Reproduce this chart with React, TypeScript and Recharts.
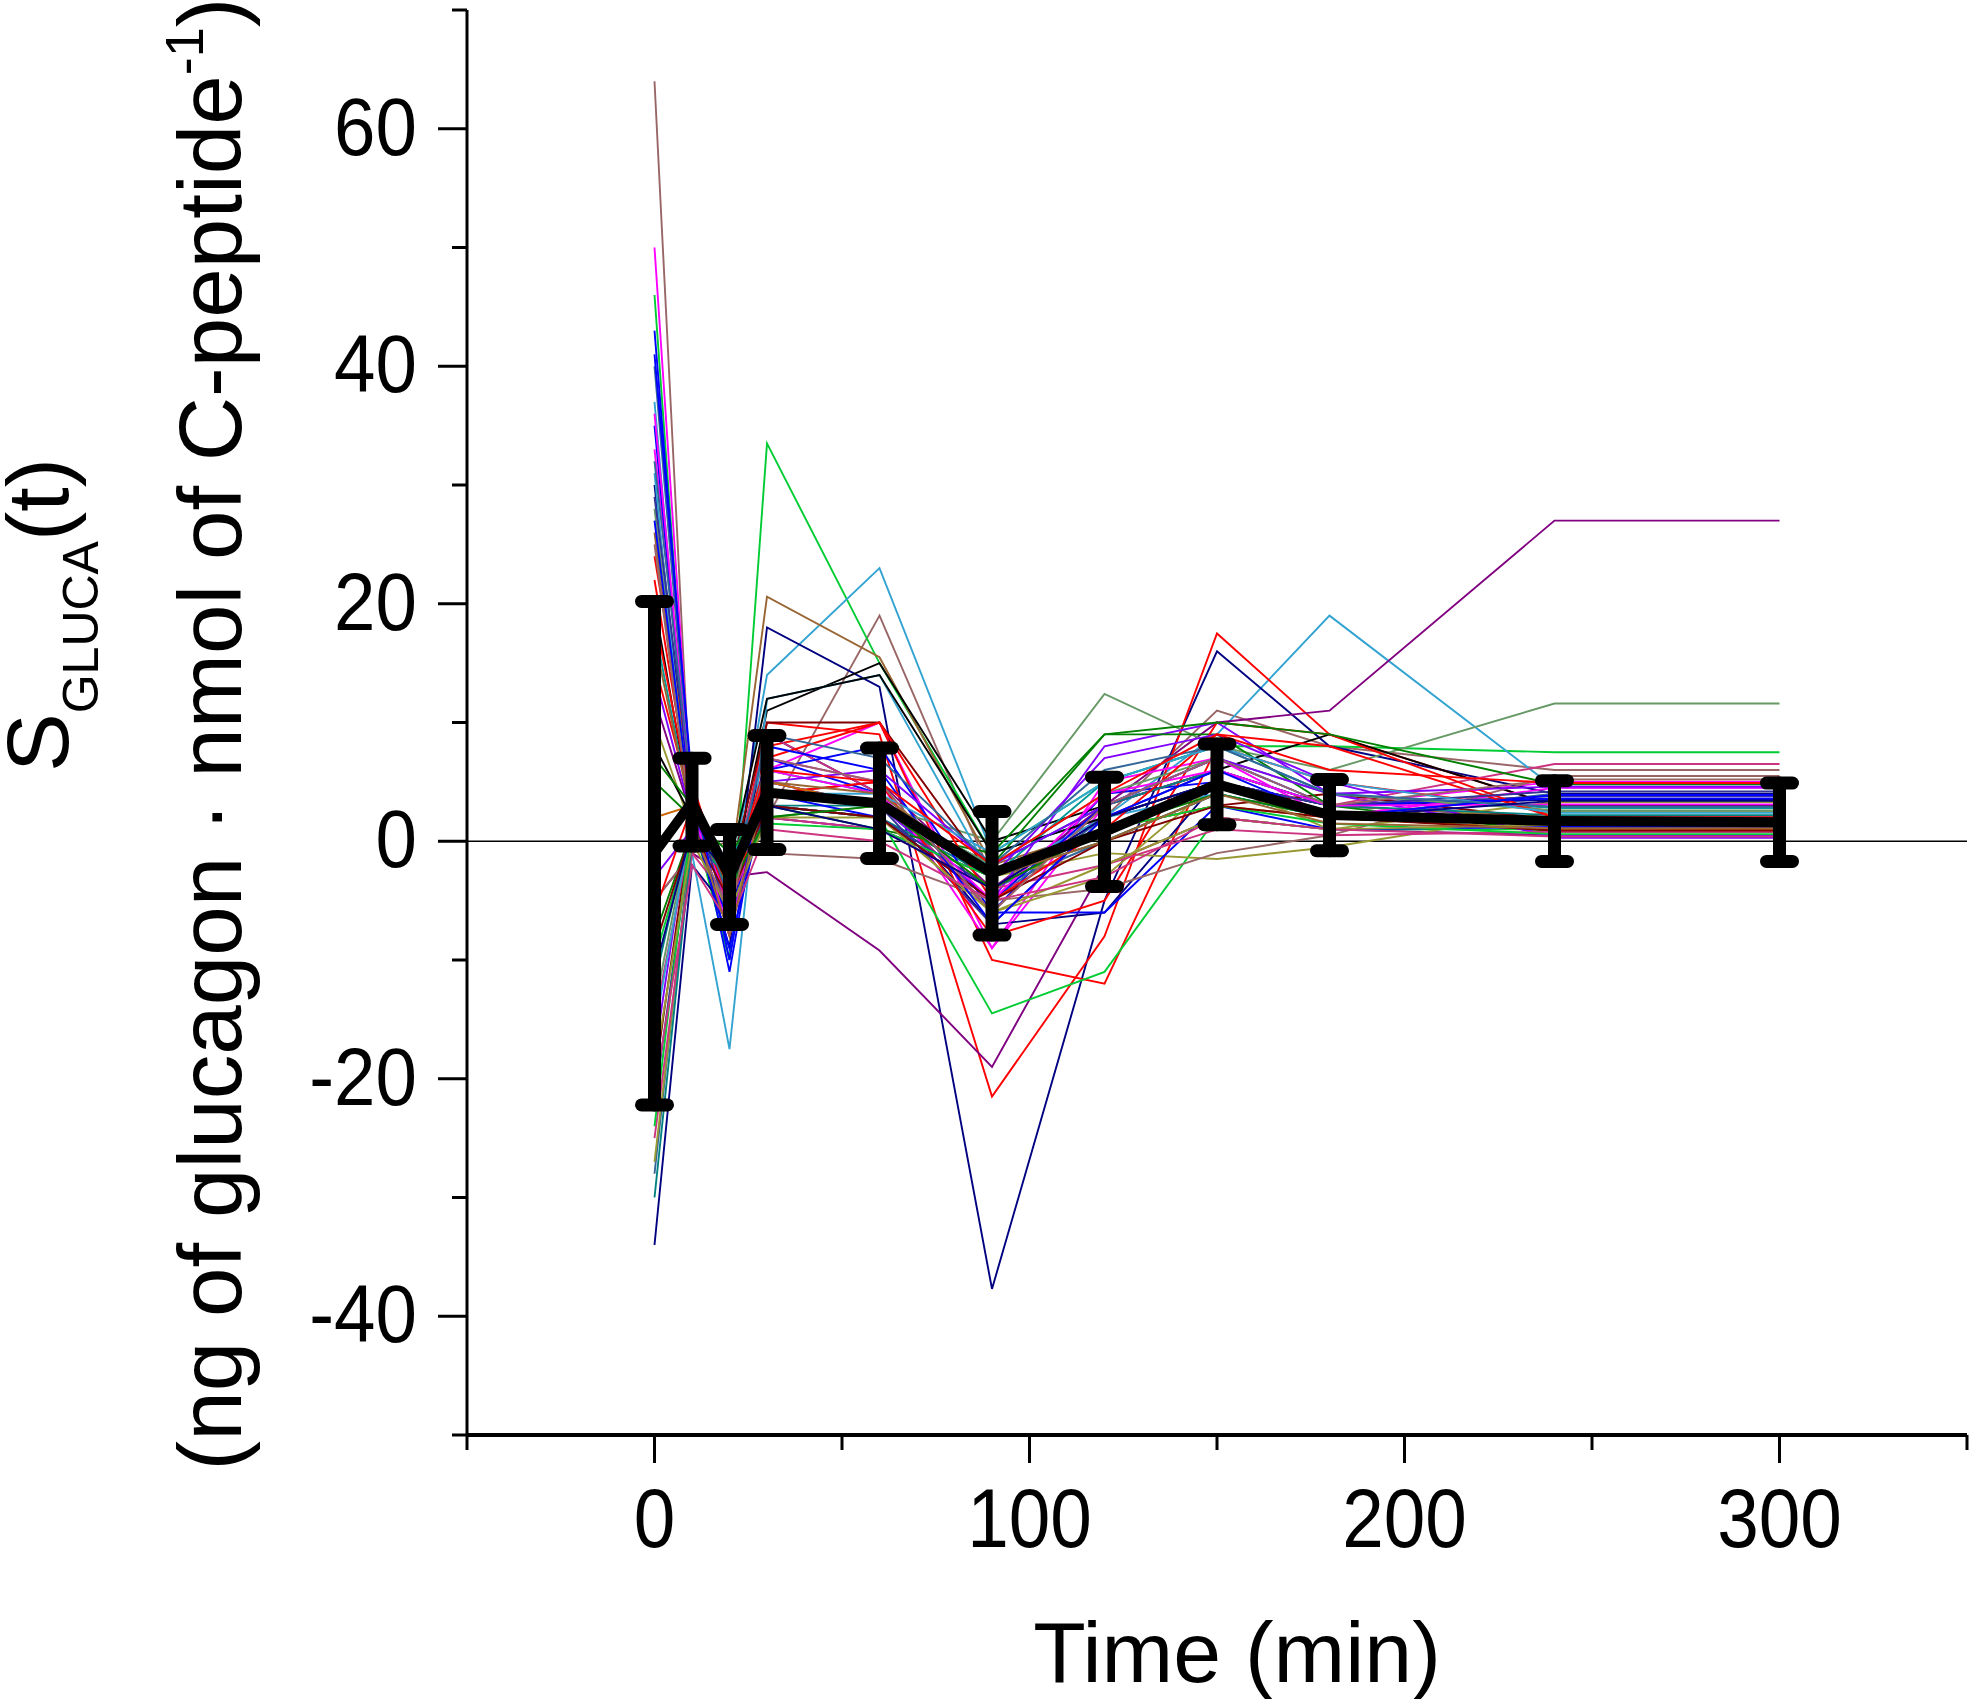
import React from 'react';
import { LineChart, Line, XAxis, YAxis, ErrorBar, ReferenceLine, Label } from 'recharts';

// sampling times (min)
const times = [0, 10, 20, 30, 60, 90, 120, 150, 180, 240, 300];

// group mean and SD
const meanValues = [-1, 3.3, -3, 4.1, 3.2, -2.7, 0.8, 4.8, 2.2, 1.7, 1.6];
const meanErrors = [21.2, 3.7, 4, 4.8, 4.65, 5.2, 4.6, 3.4, 3, 3.4, 3.3];

// individual subjects, one value per sampling time
const s01 = [64, 1, -2, 2, 19, -3, 2, 11, 8, 6, 6];
const s02 = [50, 3, -8, 6, 10, -9, 3, 6, 3, 5, 5];
const s03 = [46, 2, -10, 33.5, 15, -1, 5, 8, 8, 7.5, 7.5];
const s04 = [43, 4, -11, 7, 4, -6, 4, 5, 3, 2, 2];
const s05 = [40, 3, -6, 5, 3, -5, 2, 5, 2, 4, 4];
const s06 = [37, 1, -4, 14, 23, -1, 2, 9, 19, 4.5, 4.5];
const s07 = [30, 2, -9, 18, 13, -37.7, -5, 16, 8, 4, 4];
const s08 = [24, 5, -5, 10, 9, -21.5, -8, 17.5, 9, 3, 3];
const s09 = [22, 3, -4, 8, 10, -10, -12, 8, 5, 2.5, 2.5];
const s10 = [12, 2, -2, 4, 5, -4, 3, 10, 11, 27, 27];
const s11 = [-5, -1, -3, -2.6, -9.2, -19, -2, 2, 1, 0.5, 0.5];
const s12 = [-10, 1, -4, 3, 2, -14.5, -11, 2, 1, 1, 1];
const s13 = [28, 2, -5, 5, 3, 0, 12.4, 8, 6, 11.6, 11.6];
const s14 = [26, 1, -3, 20.6, 15.5, -2, 1, 5, 3, 2, 2];
const s15 = [20, 2, -4, 11, 15, 0, 3, 6, 9, 3, 3];
const s16 = [-34, -2, -6, 9, 4, -7, -6, 5, 3, 3.5, 3.5];
const s17 = [-28, 1, -3, 3, 2, -4, 0, 4, 2, 1.5, 1.5];
const s18 = [-27, 0, -2, 2, 1, -3, -1, -1.5, -0.5, 2.5, 2.5];
const s19 = [-20, 2, -3, 10, 10, -3, 1, 3, 4, 1.8, 1.8];
const s20 = [-18, 3, -2, 5, 3, -5, 8, 10, 4, 0.5, 0.5];
const s21 = [-15, 1, -4, 9, 4, -6, 3, 6, 3, 6.5, 6.5];
const s22 = [-12, 2, -3, 3, 2, -3, 0, 4, 2, 1, 1];
const s23 = [-8, 1, -2, 4, 3, -2, 9, 9, 3, 0.8, 0.8];
const s24 = [33, 4, -6, 7, 5, -9, 5, 7, 2, 4.5, 4.5];
const s25 = [35, 2, -7, 6, 8, -6, -6, 3, 1, 1.2, 1.2];
const s26 = [31, -1, -17.5, 12, 14, -3, 2, 4, 2, 2, 2];
const s27 = [-5, -1, 0, -1, -1.5, -5, -4, -1, 0.5, 5.5, 5.5];
const s28 = [-22, 1, -3, 4, 3, -7, 2, 6, 3, 3.8, 3.8];
const s29 = [18, 2, -2, 6, 4, -3, 5, 8, 4, 2.8, 2.8];
const s30 = [15, 3, -5, 4, 5, -8, -5, 10, 9, 2, 2];
const s31 = [10, 1, -3, 3, 2, -6, -3, 5, 1, 3.3, 3.3];
const s32 = [8, 2, -2, 12, 14, -1, 2, 5, 2, 1.5, 1.5];
const s33 = [5, 2, -1, 3, 1, -1, 9, 10, 9, 4.8, 4.8];
const s34 = [-3, 1, -2, 2, 1, -3, 7, 9, 5, 0.3, 0.3];
const s35 = [2, 3, -3, 5, 3, -4, 1, 3, 2, 1, 1];
const s36 = [-25, -1, -5, 2, 1, -4, -2, 1, 0.5, 0.8, 0.8];
const s37 = [-30, 0, -3, 3, 3, -2, 3, 6, 3, 2.2, 2.2];
const s38 = [27, 2, -9, 4, 2, -5, 3, 7, 3, 3.6, 3.6];
const s39 = [-14, 2, -3, 2, 3, -2, 4, 7, 4, 2.6, 2.6];
const s40 = [19, 3, -4, 7, 10, -5, 1, 9, 8, 2, 2];
const s41 = [29, 4, -7, 3, 2, -4, 2, 5, 3, 4.2, 4.2];
const s42 = [-24, 2, -4, 1.5, 1, -3, 1, 3, 1.5, 0.6, 0.6];
const s43 = [36, 3, -8, 6, 4, -5, 4, 6, 3, 3.1, 3.1];
const s44 = [-19, 0, -6, 2, 2, -6, -2, 2, 1, 1.4, 1.4];
const s45 = [14, 2, -3, 5, 6, -2, 3, 7, 4, 4.6, 4.6];
const s46 = [-9, 1, -5, 3, 2, -5, 0, 3, 2, 0.9, 0.9];
const s47 = [41, 5, -10, 8, 6, -7, 2, 6, 2, 3.9, 3.9];
const s48 = [-16, 2, -2, 4, 4, -1, 5, 8, 5, 2.4, 2.4];
const s49 = [7, 3, -4, 2, 3, -4, 1, 4, 2, 1.7, 1.7];
const s50 = [25, 1, -6, 7, 5, -6, 3, 7, 3, 5.2, 5.2];
const s51 = [-21, -2, -7, 1, 0, -5, -3, 2, 1, 0.4, 0.4];
const s52 = [32, 4, -5, 9, 7, -2, 6, 8, 4, 2.9, 2.9];
const s53 = [-11, 1, -3, 3, 1, -4, 2, 5, 2, 3.4, 3.4];
const s54 = [17, 2, -8, 5, 4, -3, 0, 4, 1.5, 1.1, 1.1];
const s55 = [-6, 3, -4, 6, 5, -2, 4, 9, 6, 4.9, 4.9];

const subjects = [
  s01, s02, s03, s04, s05, s06, s07, s08, s09, s10,
  s11, s12, s13, s14, s15, s16, s17, s18, s19, s20,
  s21, s22, s23, s24, s25, s26, s27, s28, s29, s30,
  s31, s32, s33, s34, s35, s36, s37, s38, s39, s40,
  s41, s42, s43, s44, s45, s46, s47, s48, s49, s50,
  s51, s52, s53, s54, s55,
];

const colors = [
  '#996666', '#FF00FF', '#00CC33', '#0000FF', '#336699', '#33A3D1', '#000080', '#FF0000',
  '#FF0000', '#800080', '#800080', '#00CC33', '#669966', '#996633', '#000000', '#000080',
  '#336699', '#999933', '#800000', '#8000FF', '#CC3380', '#008080', '#008000', '#FF00FF',
  '#0000FF', '#33A3D1', '#996666', '#333399', '#009999', '#FF0000', '#999933', '#000000',
  '#008000', '#8000FF', '#CC6600', '#CC3380', '#008080', '#0000FF', '#669966', '#FF0000',
  '#333399', '#00CC33', '#FF00FF', '#999933', '#8000FF', '#800000', '#0000FF', '#33A3D1',
  '#008000', '#996666', '#CC3380', '#336699', '#000080', '#996633', '#FF0000',
];

const xTicks = [-50, 0, 50, 100, 150, 200, 250, 300, 350];
const xLabels = [0, 100, 200, 300];
const yTicks = [-50, -40, -30, -20, -10, 0, 10, 20, 30, 40, 50, 60, 70];
const yLabels = [-40, -20, 0, 20, 40, 60];

const data = times.map((t, i) => {
  const row: Record<string, number> = { t, mean: meanValues[i], err: meanErrors[i] };
  subjects.forEach((s, k) => {
    row['s' + k] = s[i];
  });
  return row;
});

const FONT = '"Liberation Sans", Arial, sans-serif';

const XTick = (props: any) => {
  const { x, y, payload } = props;
  const v = payload.value;
  const labelled = xLabels.includes(v);
  return (
    <g>
      <line x1={x} y1={y} x2={x} y2={y + (labelled ? 28 : 15)} stroke="#000" strokeWidth={3} />
      {labelled && (
        <text
          transform={`translate(${x},${y + 112}) scale(0.9,1)`}
          textAnchor="middle"
          fontSize={83}
          fontFamily={FONT}
          fill="#000"
        >
          {v}
        </text>
      )}
    </g>
  );
};

const YTick = (props: any) => {
  const { x, y, payload } = props;
  const v = payload.value;
  const labelled = yLabels.includes(v);
  return (
    <g>
      <line x1={x} y1={y} x2={x - (labelled ? 29 : 15)} y2={y} stroke="#000" strokeWidth={3} />
      {labelled && (
        <text
          transform={`translate(${x - 50},${y + 26}) scale(0.92,1)`}
          textAnchor="end"
          fontSize={81}
          fontFamily={FONT}
          fill="#000"
        >
          {v}
        </text>
      )}
    </g>
  );
};

const YTitle = () => (
  <g fontFamily={FONT} fill="#000">
    <text x={68} y={615} transform="rotate(-90, 68, 615)" textAnchor="middle" fontSize={88}>
      S
      <tspan fontSize={50} dy={30}>GLUCA</tspan>
      <tspan fontSize={88} dy={-30}>(t)</tspan>
    </text>
    <text x={241} y={734} transform="rotate(-90, 241, 734)" textAnchor="middle" fontSize={89}>
      (ng of glucagon · nmol of C-peptide
      <tspan fontSize={54} dy={-38}>-1</tspan>
      <tspan dy={38}>)</tspan>
    </text>
  </g>
);

const XTitle = () => (
  <text x={1237} y={1682} textAnchor="middle" fontSize={86} fontFamily={FONT} fill="#000">
    Time (min)
  </text>
);

export default function App() {
  return (
    <div style={{ position: 'absolute', left: 0, top: 0, width: 1969, height: 1699, background: '#fff' }}>
      <LineChart
        width={1969}
        height={1699}
        data={data}
        margin={{ top: 10, right: 2, bottom: 0, left: 0 }}
      >
        <XAxis
          dataKey="t"
          type="number"
          domain={[-50, 350]}
          ticks={xTicks}
          interval={0}
          height={264}
          tickLine={false}
          tickSize={0}
          tickMargin={0}
          tick={<XTick />}
          axisLine={{ stroke: '#000', strokeWidth: 4 }}
        >
          <Label content={() => <XTitle />} />
        </XAxis>
        <YAxis
          type="number"
          domain={[-50, 70]}
          ticks={yTicks}
          interval={0}
          width={467}
          tickLine={false}
          tickSize={0}
          tickMargin={0}
          tick={<YTick />}
          axisLine={{ stroke: '#000', strokeWidth: 3 }}
        >
          <Label content={() => <YTitle />} />
        </YAxis>
        <ReferenceLine y={0} stroke="#000" strokeWidth={1.6} />
        {subjects.map((_, k) => (
          <Line
            key={k}
            type="linear"
            dataKey={'s' + k}
            stroke={colors[k % colors.length]}
            strokeWidth={1.9}
            dot={false}
            activeDot={false}
            isAnimationActive={false}
          />
        ))}
        <Line
          type="linear"
          dataKey="mean"
          stroke="#000"
          strokeWidth={10}
          dot={false}
          activeDot={false}
          isAnimationActive={false}
        >
          <ErrorBar
            dataKey="err"
            direction="y"
            width={13}
            stroke="#000"
            strokeWidth={13}
            strokeLinecap="round"
            isAnimationActive={false}
          />
        </Line>
      </LineChart>
    </div>
  );
}
